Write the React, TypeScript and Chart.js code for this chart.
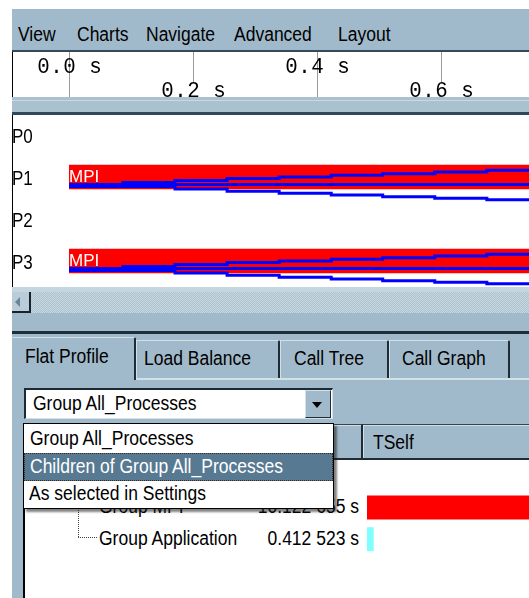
import React, { useEffect, useRef } from 'react';
import { Chart, registerables } from 'chart.js';

Chart.register(...registerables);

// ---------------- data ----------------
const MENU_ITEMS = ['View', 'Charts', 'Navigate', 'Advanced', 'Layout'];
const PROCESSES = ['P0', 'P1', 'P2', 'P3'];
const MPI_LANES = [1, 3];
const STATE_LABEL = 'MPI';
const MPI_START = 0.0;
const VISIBLE_END = 0.742; // seconds visible at the right edge
const RULER_TICKS = [0.0, 0.2, 0.4, 0.6];
const RULER_LABELS = ['0.0 s', '0.2 s', '0.4 s', '0.6 s'];
// message lines: step start times (s) and vertical offsets inside a process lane
const STEP_TIMES = [0.0, 0.087, 0.171, 0.255, 0.339, 0.423, 0.506, 0.59, 0.674];
const MSG_UPPER = [0.19, 0.131, 0.083, 0.036, 0.0, -0.04, -0.079, -0.119, -0.16];
const MSG_MIDDLE = [0.176, 0.176, 0.176, 0.176, 0.176, 0.176, 0.176, 0.176, 0.176];
const MSG_LOWER = [0.226, 0.226, 0.286, 0.34, 0.388, 0.429, 0.469, 0.507, 0.54];
const TABS = ['Flat Profile', 'Load Balance', 'Call Tree', 'Call Graph'];
const GROUPING_CURRENT = 'Group All_Processes';
const GROUPING_OPTIONS = ['Group All_Processes', 'Children of Group All_Processes', 'As selected in Settings'];
const GROUPS = ['Group All_Processes', 'Group MPI', 'Group Application'];
const TSELF = [0, 10.122655, 0.412523];
const TSELF_TEXT = ['', '10.122 655 s', '0.412 523 s'];
const GROUP_COLORS = ['#000000', '#ff0000', '#80ffff'];
const COLUMN_HEADER = 'TSelf';

// ---------------- style ----------------
const GUI = '#a1bacb';
const GUI_LIGHT = '#d2e0e8';
const GUI_DARK = '#1e2c35';
const SELECT = '#577a92';
const SANS = '"Liberation Sans", Arial, sans-serif';

function Box({ x, y, w, h, s = {} }: { x: number; y: number; w: number; h: number; s?: React.CSSProperties }) {
  return <div style={{ position: 'absolute', left: x, top: y, width: w, height: h, boxSizing: 'border-box', ...s }} />;
}

function Label({ x, right, cy, text, color = '#000', size = 17.5 }: { x?: number; right?: number; cy: number; text: string; color?: string; size?: number }) {
  return (
    <div
      style={{
        position: 'absolute', left: x, right, top: cy - size / 2, height: size,
        fontFamily: SANS, fontSize: size, lineHeight: `${size}px`, color, whiteSpace: 'nowrap',
        transform: 'scaleY(1.12)', transformOrigin: '50% 50%',
      }}
    >
      {text}
    </div>
  );
}

// ---------------- charts ----------------
const AXIS_GUTTER = 56;

const rulerPlugin = {
  id: 'rulerTicks',
  afterDraw(chart: any) {
    const { ctx, height } = chart;
    const xs = chart.scales.x;
    ctx.save();
    RULER_TICKS.forEach((t, i) => {
      const px = Math.round(xs.getPixelForValue(t)) + 0.5;
      const upper = i % 2 === 0;
      ctx.strokeStyle = '#9a9a9a';
      ctx.lineWidth = 1;
      ctx.beginPath();
      ctx.moveTo(px, 0);
      ctx.lineTo(px, upper ? height : 30);
      ctx.stroke();
      const label = RULER_LABELS[i];
      const base = upper ? 21 : 44.5;
      ctx.fillStyle = '#000';
      ctx.font = '16px "Liberation Mono", monospace';
      ctx.textAlign = 'center';
      ctx.textBaseline = 'alphabetic';
      const mid = (label.length - 1) / 2;
      [...label].forEach((ch, k) => {
        ctx.save();
        ctx.translate(px + (k - mid) * 13, base);
        ctx.scale(1.3, 1.4);
        ctx.fillText(ch, 0, 0);
        ctx.restore();
      });
    });
    ctx.restore();
  },
};

const lanePlugin = {
  id: 'laneLabels',
  afterDraw(chart: any) {
    const { ctx } = chart;
    const xs = chart.scales.x;
    const ys = chart.scales.y;
    ctx.save();
    ctx.textAlign = 'left';
    ctx.textBaseline = 'alphabetic';
    PROCESSES.forEach((p, i) => {
      const py = ys.getPixelForValue(i);
      ctx.save();
      ctx.translate(0, py + 8);
      ctx.scale(1, 1.2);
      ctx.font = `17px ${SANS}`;
      ctx.fillStyle = '#000';
      ctx.fillText(p, -1, 0);
      ctx.restore();
    });
    MPI_LANES.forEach((lane) => {
      const px = xs.getPixelForValue(MPI_START);
      const py = ys.getPixelForValue(lane);
      ctx.font = `17px ${SANS}`;
      ctx.fillStyle = '#ffffff';
      ctx.fillText(STATE_LABEL, px, py + 5);
    });
    ctx.restore();
  },
};

function messageLine(lane: number, offsets: number[]) {
  const pts = STEP_TIMES.map((t, k) => ({ x: t, y: lane + offsets[k] }));
  pts.push({ x: VISIBLE_END, y: lane + offsets[offsets.length - 1] });
  return {
    type: 'line',
    data: pts,
    borderColor: '#0000ff',
    borderWidth: 3,
    pointRadius: 0,
    stepped: true,
    fill: false,
    tension: 0,
    order: 1,
  };
}

function RulerChart() {
  const ref = useRef<HTMLCanvasElement>(null);
  useEffect(() => {
    const chart = new Chart(ref.current as HTMLCanvasElement, {
      type: 'line',
      data: { datasets: [] },
      options: {
        responsive: false,
        animation: false,
        events: [],
        layout: { padding: { left: AXIS_GUTTER, right: 0, top: 0, bottom: 0 } },
        plugins: { legend: { display: false }, tooltip: { enabled: false } },
        scales: {
          x: { type: 'linear', min: 0, max: VISIBLE_END, display: false, offset: false },
          y: { type: 'linear', display: false, offset: false },
        },
      },
      plugins: [rulerPlugin],
    } as any);
    return () => chart.destroy();
  }, []);
  return <canvas ref={ref} width={516} height={45} style={{ position: 'absolute', left: 13, top: 52 }} />;
}

function TimelineChart() {
  const ref = useRef<HTMLCanvasElement>(null);
  useEffect(() => {
    const datasets: any[] = [];
    MPI_LANES.forEach((lane) => {
      [MSG_UPPER, MSG_MIDDLE, MSG_LOWER].forEach((offs) => datasets.push(messageLine(lane, offs)));
    });
    datasets.push({
      type: 'bar',
      indexAxis: 'y',
      order: 2,
      data: MPI_LANES.map((lane) => ({ x: [MPI_START, VISIBLE_END], y: lane })),
      backgroundColor: '#ff0000',
      borderWidth: 0,
      barThickness: 24,
    });
    const chart = new Chart(ref.current as HTMLCanvasElement, {
      type: 'line',
      data: { datasets },
      options: {
        responsive: false,
        animation: false,
        events: [],
        layout: { padding: { left: AXIS_GUTTER, right: 0, top: 0, bottom: 0 } },
        plugins: { legend: { display: false }, tooltip: { enabled: false } },
        scales: {
          x: { type: 'linear', min: 0, max: VISIBLE_END, display: false, offset: false },
          y: { type: 'linear', reverse: true, min: -0.476, max: 3.619, display: false, offset: false },
        },
      },
      plugins: [lanePlugin],
    } as any);
    return () => chart.destroy();
  }, []);
  return <canvas ref={ref} width={516} height={172} style={{ position: 'absolute', left: 13, top: 115 }} />;
}

function ProfileChart() {
  const ref = useRef<HTMLCanvasElement>(null);
  useEffect(() => {
    const chart = new Chart(ref.current as HTMLCanvasElement, {
      type: 'bar',
      data: {
        labels: GROUPS,
        datasets: [
          {
            data: TSELF,
            backgroundColor: GROUP_COLORS,
            borderWidth: 0,
            barPercentage: 0.756,
            categoryPercentage: 1,
          },
        ],
      },
      options: {
        indexAxis: 'y',
        responsive: false,
        animation: false,
        events: [],
        layout: { padding: 0 },
        plugins: { legend: { display: false }, tooltip: { enabled: false } },
        scales: {
          x: { type: 'linear', min: 0, max: 10, display: false },
          y: { type: 'category', display: false },
        },
      },
    } as any);
    return () => chart.destroy();
  }, []);
  return <canvas ref={ref} width={162} height={95} style={{ position: 'absolute', left: 367, top: 460 }} />;
}

// ---------------- layout ----------------
const MENU_X = [18, 77, 146, 234, 338];
const TAB_X = [12, 136, 280, 389];
const TAB_W = [124, 144, 109, 121];
const TAB_TEXT_X = [25, 144, 294, 402];

export default function App() {
  return (
    <div style={{ position: 'fixed', left: 0, top: 0, width: 529, height: 598, overflow: 'hidden', background: '#fff' }}>
      <Box x={12} y={9} w={517} h={589} s={{ background: GUI }} />
      {MENU_ITEMS.map((m, i) => (
        <Label key={m} x={MENU_X[i]} cy={34.5} text={m} />
      ))}

      {/* time ruler */}
      <Box x={12} y={50} w={517} h={2} s={{ background: '#34495a' }} />
      <Box x={12} y={52} w={517} h={45} s={{ background: '#fff', borderLeft: '1px solid #000' }} />
      <RulerChart />

      {/* separator */}
      <Box x={12} y={97} w={517} h={15} s={{ background: '#aac1cf' }} />
      <Box x={12} y={100} w={517} h={1} s={{ background: '#c9d9e2' }} />
      <Box x={12} y={112} w={517} h={2.5} s={{ background: '#30485a' }} />

      {/* timeline */}
      <Box x={12} y={114.5} w={517} h={172.5} s={{ background: '#fff', borderLeft: '1px solid #000' }} />
      <TimelineChart />

      {/* scrollbar */}
      <Box x={12} y={287} w={517} h={4.5} s={{ background: '#c5d6e0' }} />
      <Box
        x={12}
        y={291.5}
        w={517}
        h={21.5}
        s={{ background: 'repeating-conic-gradient(#adc2cf 0 25%, #c8d7e0 0 50%) 0 0 / 2px 2px' }}
      />
      <Box
        x={12}
        y={291.5}
        w={18.5}
        h={21.5}
        s={{ background: '#b9ccd8', borderRight: '2px solid #17232a', borderBottom: '2px solid #17232a' }}
      />
      <div
        style={{
          position: 'absolute', left: 15, top: 297, width: 0, height: 0,
          borderTop: '5px solid transparent', borderBottom: '5px solid transparent', borderRight: '5px solid #6d8696',
        }}
      />

      {/* pane separator */}
      <Box x={12} y={331} w={517} h={3} s={{ background: '#1f2e37' }} />

      {/* tabs */}
      <Box x={12} y={378} w={517} h={1.5} s={{ background: GUI_LIGHT }} />
      {TABS.map((t, i) =>
        i === 0 ? null : (
          <Box
            key={t}
            x={TAB_X[i]}
            y={340}
            w={TAB_W[i]}
            h={38}
            s={{
              background: GUI,
              borderTop: `1.5px solid ${GUI_LIGHT}`,
              borderLeft: `1px solid ${GUI_LIGHT}`,
              borderRight: `2px solid ${GUI_DARK}`,
              borderTopRightRadius: 2,
            }}
          />
        )
      )}
      <Box
        x={TAB_X[0]}
        y={337}
        w={TAB_W[0]}
        h={43}
        s={{ background: GUI, borderTop: `1.5px solid ${GUI_LIGHT}`, borderRight: `2px solid ${GUI_DARK}`, borderTopRightRadius: 2 }}
      />
      {TABS.map((t, i) => (
        <Label key={t} x={TAB_TEXT_X[i]} cy={i === 0 ? 357 : 358.5} text={t} />
      ))}

      {/* combo box */}
      <Box
        x={24}
        y={388}
        w={309}
        h={31}
        s={{
          background: '#fff',
          borderTop: '2px solid #1b2a33',
          borderLeft: '2px solid #1b2a33',
          borderRight: `1px solid ${GUI_LIGHT}`,
          borderBottom: `1px solid ${GUI_LIGHT}`,
        }}
      />
      <Label x={33} cy={403.5} text={GROUPING_CURRENT} />
      <Box
        x={305}
        y={390}
        w={26}
        h={28}
        s={{
          background: GUI,
          borderTop: `1px solid ${GUI_LIGHT}`,
          borderLeft: `1px solid ${GUI_LIGHT}`,
          borderRight: `1.5px solid ${GUI_DARK}`,
          borderBottom: `1.5px solid ${GUI_DARK}`,
        }}
      />
      <div
        style={{
          position: 'absolute', left: 312, top: 402, width: 0, height: 0,
          borderLeft: '5px solid transparent', borderRight: '5px solid transparent', borderTop: '6px solid #000',
        }}
      />

      {/* table header */}
      <Box x={23} y={424} w={506} h={36} s={{ background: GUI, borderLeft: '2px solid #000' }} />
      <Box
        x={25}
        y={424}
        w={338}
        h={36}
        s={{
          borderTop: '1px solid #33444f',
          borderRight: `2px solid ${GUI_DARK}`,
          borderBottom: `2px solid ${GUI_DARK}`,
          boxShadow: `inset 1px 1px 0 ${GUI_LIGHT}`,
        }}
      />
      <Box
        x={363}
        y={424}
        w={200}
        h={36}
        s={{
          borderTop: '1px solid #33444f',
          borderBottom: `2px solid ${GUI_DARK}`,
          boxShadow: `inset 1px 1px 0 ${GUI_LIGHT}`,
        }}
      />
      <Label x={373} cy={442.5} text={COLUMN_HEADER} />

      {/* table body */}
      <Box x={23} y={460} w={506} h={138} s={{ background: '#fff', borderLeft: '2px solid #000' }} />
      <Box x={78} y={480} w={1} h={57} s={{ borderLeft: '1px dotted #404040' }} />
      <Box x={78} y={537} w={19} h={1} s={{ borderTop: '1px dotted #404040' }} />
      <Box x={78} y={506} w={19} h={1} s={{ borderTop: '1px dotted #404040' }} />
      <Label x={99} cy={507} text={GROUPS[1]} />
      <Label right={170} cy={507} text={TSELF_TEXT[1]} />
      <Label x={99} cy={538.5} text={GROUPS[2]} />
      <Label right={170} cy={538.5} text={TSELF_TEXT[2]} />
      <ProfileChart />

      {/* open dropdown list */}
      <Box
        x={23}
        y={423}
        w={311}
        h={86}
        s={{ background: '#fff', border: '1px solid #000', boxShadow: '3px 3px 2px rgba(30,30,30,0.55)' }}
      />
      <Box x={24} y={452.5} w={309} h={28} s={{ background: SELECT, border: '1px dotted #3a2810' }} />
      <Label x={30} cy={438.5} text={GROUPING_OPTIONS[0]} />
      <Label x={30} cy={467} text={GROUPING_OPTIONS[1]} color="#ffffff" />
      <Label x={29} cy={494} text={GROUPING_OPTIONS[2]} />
    </div>
  );
}
